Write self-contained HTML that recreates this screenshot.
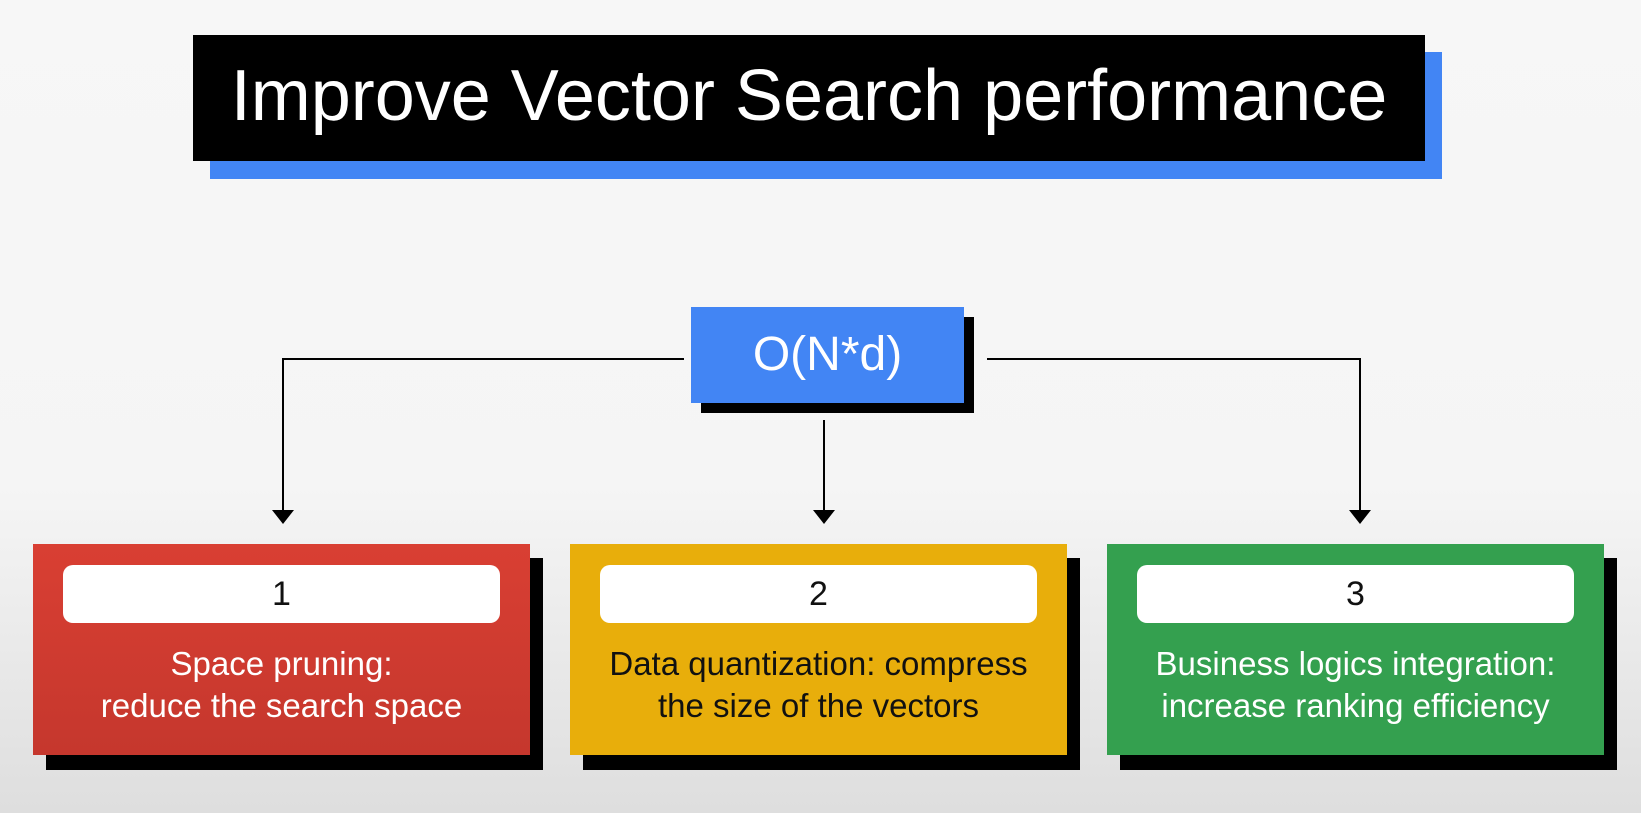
<!DOCTYPE html>
<html><head><style>
body{margin:0;width:1641px;height:813px;overflow:hidden;background:linear-gradient(#f7f7f7 0%,#f5f5f5 60%,#dedede 100%);font-family:"Liberation Sans",sans-serif;position:relative}
.a{position:absolute}
.card{position:absolute;top:544px;width:497px;height:211px;color:#fff}
.sh{position:absolute;top:558px;width:497px;height:212px;background:#000}
.pill{position:absolute;left:30px;top:21px;width:437px;height:58px;background:#fff;border-radius:10px;color:#111;font-size:34px;text-align:center;line-height:58px}
.txt{position:absolute;left:0;right:0;top:99px;text-align:center;font-size:33px;line-height:42px}
</style></head><body>
<div class="a" style="left:210px;top:52px;width:1232px;height:127px;background:#4285f4"></div>
<div class="a" style="left:193px;top:35px;width:1232px;height:126px;background:#000;color:#fff;font-size:72px;text-align:center;line-height:122px">Improve Vector Search performance</div>

<div class="a" style="left:701px;top:317px;width:273px;height:96px;background:#000"></div>
<div class="a" style="left:691px;top:307px;width:273px;height:96px;background:#4285f4;color:#fff;font-size:48px;text-align:center;line-height:96px">O(N*d)</div>

<svg class="a" style="left:0;top:0" width="1641" height="813">
<g stroke="#000" stroke-width="2" fill="none">
<polyline points="684,359 283,359 283,512"/>
<line x1="824" y1="420" x2="824" y2="512"/>
<polyline points="987,359 1360,359 1360,512"/>
</g>
<g fill="#000">
<polygon points="272,510 294,510 283,524"/>
<polygon points="813,510 835,510 824,524"/>
<polygon points="1349,510 1371,510 1360,524"/>
</g>
</svg>

<div class="sh" style="left:46px"></div>
<div class="card" style="left:33px;background:linear-gradient(#d93f33,#c5372d)"><div class="pill">1</div><div class="txt">Space pruning:<br>reduce the search space</div></div>
<div class="sh" style="left:583px"></div>
<div class="card" style="left:570px;background:#e8ae0b;color:#111"><div class="pill">2</div><div class="txt">Data quantization: compress<br>the size of the vectors</div></div>
<div class="sh" style="left:1120px"></div>
<div class="card" style="left:1107px;background:#34a04f"><div class="pill">3</div><div class="txt">Business logics integration:<br>increase ranking efficiency</div></div>
</body></html>
